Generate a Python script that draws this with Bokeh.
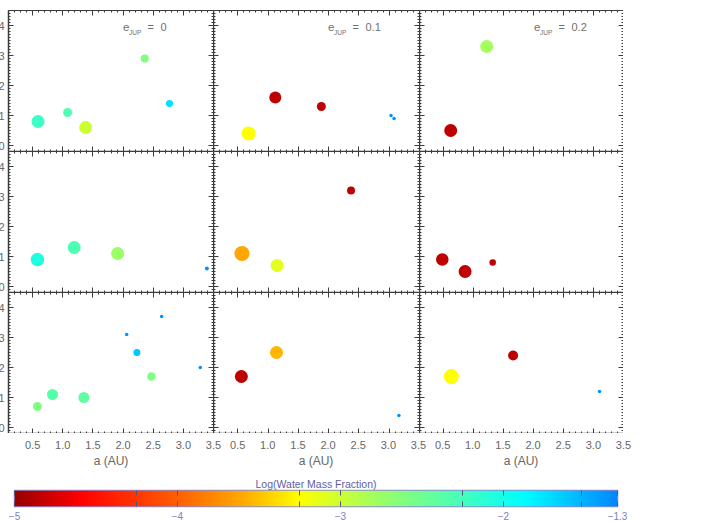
import numpy as np
from bokeh.plotting import figure
from bokeh.models import Range1d, FixedTicker, LinearAxis, Label, LinearColorMapper, ColumnDataSource
from bokeh.core.properties import value
from bokeh.layouts import column, row
from bokeh.embed import file_html
from bokeh.resources import INLINE

# ---------------- data ----------------
# panel index: 0..8 -> row-major (row 0 = top), columns e_JUP = 0, 0.1, 0.2
panel = [0, 0, 0, 0, 0,
         1, 1, 1, 1, 1,
         2, 2,
         3, 3, 3, 3,
         4, 4, 4,
         5, 5, 5,
         6, 6, 6, 6, 6, 6, 6, 6,
         7, 7, 7,
         8, 8, 8]
a_au = [0.59, 1.08, 1.38, 2.36, 2.77,
        1.12, 1.88, 0.68, 3.03, 3.08,
        1.22, 0.62,
        0.58, 1.19, 1.91, 3.39,
        2.37, 0.57, 1.15,
        0.48, 0.86, 1.32,
        2.06, 2.64, 2.23, 3.28, 2.47, 0.58, 0.83, 1.35,
        1.14, 0.56, 3.16,
        0.63, 1.66, 3.10]
mass = [0.8, 1.1, 0.6, 2.9, 1.4,
        1.6, 1.3, 0.4, 1.0, 0.9,
        3.3, 0.5,
        0.9, 1.3, 1.1, 0.6,
        3.2, 1.1, 0.7,
        0.9, 0.5, 0.8,
        3.1, 3.7, 2.5, 2.0, 1.7, 0.7, 1.1, 1.0,
        2.5, 1.7, 0.4,
        1.7, 2.4, 1.2]
log_wmf = [-2.2, -2.3, -3.0, -2.6, -1.72,
           -4.85, -4.85, -3.25, -1.35, -1.35,
           -2.8, -4.85,
           -2.05, -2.3, -2.75, -1.35,
           -4.85, -3.62, -3.12,
           -4.85, -4.85, -4.85,
           -1.35, -1.35, -1.6, -1.35, -2.6, -2.6, -2.35, -2.4,
           -3.55, -4.85, -1.35,
           -3.25, -4.85, -1.35]
rel_size = [13, 9, 13, 8, 7,
            12, 9, 14, 3.5, 3.5,
            13, 13,
            13.5, 13, 13, 4,
            8, 15, 13,
            12.5, 13, 6.5,
            3.5, 3.5, 7, 3.5, 8.5, 9, 11, 11,
            13, 13, 3.5,
            15, 10, 3.5]
e_jup = ["0", "0.1", "0.2"]
x_ticks = [0.5, 1.0, 1.5, 2.0, 2.5, 3.0, 3.5]
y_ticks = [0, 1, 2, 3, 4]
cbar_ticks = [-5, -4, -3, -2, -1.3]
cbar_labels = ["\u22125", "\u22124", "\u22123", "\u22122", "\u22121.3"]
cbar_minor = [-4.25, -3.25, -2.25, -1.52]
WMF_LOW, WMF_HIGH = -5.0, -1.3

# ---------------- styling ----------------
STOPS = [(-5.0, "#990000"), (-4.6, "#ff0000"), (-4.0, "#ff6000"), (-3.6, "#ffaa00"),
         (-3.25, "#ffff00"), (-2.75, "#99ff66"), (-2.25, "#44ffbb"), (-1.87, "#00ffff"),
         (-1.3, "#0088ff")]


def make_palette(stops, n=256):
    v = np.array([s[0] for s in stops])
    c = np.array([[int(h[1:3], 16), int(h[3:5], 16), int(h[5:7], 16)] for _, h in stops], float)
    xs = np.linspace(v[0], v[-1], n)
    rgb = [np.interp(xs, v, c[:, k]) for k in range(3)]
    return ["#%02x%02x%02x" % (int(round(r)), int(round(g)), int(round(b))) for r, g, b in zip(*rgb)]


PALETTE = make_palette(STOPS)
mapper = LinearColorMapper(palette=PALETTE, low=WMF_LOW, high=WMF_HIGH)

XR = (0.1, 3.5)
YR = (-0.2, 4.5)
FRAME_W = [205, 206, 204]
FRAME_H = 141
AX_COL = "#3c3c3c"
LBL_COL = "#666666"
FONT = "Liberation Sans"

x_minor = [round(v, 2) for v in np.arange(0.1, 3.501, 0.1)]
y_minor = [round(v, 2) for v in np.arange(-0.2, 4.501, 0.1)]


def style_axis(ax, show_labels):
    ax.axis_line_color = AX_COL
    ax.axis_line_width = 1.5
    ax.major_tick_line_color = AX_COL
    ax.minor_tick_line_color = AX_COL
    ax.major_tick_in = 5
    ax.major_tick_out = 0
    ax.minor_tick_in = 2
    ax.minor_tick_out = 0
    ax.axis_label = None
    if show_labels:
        ax.major_label_text_font = FONT
        ax.major_label_text_font_size = "11px"
        ax.major_label_text_color = LBL_COL
        ax.major_label_standoff = 4
    else:
        ax.major_label_text_font_size = "0px"
        ax.major_label_text_color = None
        ax.major_label_standoff = 0


rows = []
for r in range(3):
    figs = []
    for c in range(3):
        k = r * 3 + c
        idx = [i for i, pnl in enumerate(panel) if pnl == k]
        src = ColumnDataSource(dict(
            a=[a_au[i] for i in idx],
            m=[mass[i] for i in idx],
            w=[log_wmf[i] for i in idx],
            s=[rel_size[i] for i in idx],
        ))
        p = figure(frame_width=FRAME_W[c], frame_height=FRAME_H,
                   x_range=Range1d(*XR), y_range=Range1d(*YR),
                   output_backend="svg", toolbar_location=None,
                   min_border_left=14 if c == 0 else 0,
                   min_border_right=0,
                   min_border_top=2 if r == 0 else 0,
                   min_border_bottom=0)
        p.grid.visible = False
        p.outline_line_color = None
        p.xaxis.ticker = FixedTicker(ticks=x_ticks, minor_ticks=x_minor)
        p.yaxis.ticker = FixedTicker(ticks=y_ticks, minor_ticks=y_minor)
        style_axis(p.xaxis[0], False)
        style_axis(p.yaxis[0], c == 0)
        top = LinearAxis(ticker=FixedTicker(ticks=x_ticks, minor_ticks=x_minor))
        style_axis(top, False)
        top.axis_line_width = 1
        p.add_layout(top, "above")
        right = LinearAxis(ticker=FixedTicker(ticks=y_ticks, minor_ticks=y_minor))
        style_axis(right, False)
        right.axis_line_width = 1
        p.add_layout(right, "right")

        p.scatter(x="a", y="m", size="s", source=src,
                  fill_color={"field": "w", "transform": mapper}, line_color=None)

        if r == 0:
            common = dict(x_units="screen", y_units="screen", text_color="#707070",
                          text_font=FONT, text_align="left", text_baseline="alphabetic")
            p.add_layout(Label(x=114.5, y=124.5, text="e", text_font_size="11.5px", **common))
            p.add_layout(Label(x=120.5, y=119.5, text="JUP", text_font_size="6.5px", **common))
            p.add_layout(Label(x=139, y=124.5, text="=", text_font_size="11px", **common))
            p.add_layout(Label(x=152, y=124.5, text=e_jup[c], text_font_size="11px", **common))
        figs.append(p)
    rows.append(row(*figs))

# ---------------- x tick-label strip under the bottom row ----------------
# (the column aligns plot frames, so the strip frame shares the colour bar's left border)
COL_SPAN = XR[1] - XR[0]
PPU = sum(FRAME_W) / (3 * COL_SPAN)          # pixels per AU across the three columns
STRIP_H = 36
STRIP_L = 14 - 8                              # strip frame starts this many px right of column-1 frame
STRIP_W = 620
strip = figure(frame_width=STRIP_W, frame_height=STRIP_H,
               x_range=Range1d(STRIP_L / PPU, (STRIP_L + STRIP_W) / PPU), y_range=Range1d(0, STRIP_H),
               output_backend="svg", toolbar_location=None,
               min_border_left=20, min_border_right=10, min_border_top=0, min_border_bottom=0,
               x_axis_location=None, y_axis_location=None)
strip.grid.visible = False
strip.outline_line_color = None
tick_x = [c * COL_SPAN + t - XR[0] for c in range(3) for t in x_ticks]
tick_txt = ["%.1f" % t for c in range(3) for t in x_ticks]
strip.text(x=tick_x, y=[STRIP_H - 11] * len(tick_x), text=tick_txt,
           text_font=value(FONT), text_font_size="11px", text_color=LBL_COL,
           text_align="center", text_baseline="middle")
strip.text(x=[c * COL_SPAN + COL_SPAN / 2 for c in range(3)], y=[STRIP_H - 27] * 3,
           text=["a (AU)"] * 3, text_font=value(FONT), text_font_size="12px",
           text_color=LBL_COL, text_align="center", text_baseline="middle")

# ---------------- colour bar ----------------
cb = figure(frame_width=603, frame_height=16,
            x_range=Range1d(WMF_LOW, WMF_HIGH), y_range=Range1d(0, 1),
            output_backend="svg", toolbar_location=None,
            min_border_left=20, min_border_right=10, min_border_top=21, min_border_bottom=16,
            y_axis_location=None)
cb.grid.visible = False
cb.image(image=[np.linspace(WMF_LOW, WMF_HIGH, 600)[None, :]], x=WMF_LOW, y=0,
         dw=WMF_HIGH - WMF_LOW, dh=1, color_mapper=mapper)
cb.outline_line_color = "#8c8cd0"
cb.outline_line_width = 1.5
cbx = cb.xaxis[0]
cbx.ticker = FixedTicker(ticks=cbar_ticks, minor_ticks=cbar_minor)
cbx.major_label_overrides = {k: v for k, v in zip(cbar_ticks, cbar_labels)}
cbx.axis_line_color = None
cbx.major_tick_line_color = "#555577"
cbx.minor_tick_line_color = "#555577"
cbx.major_tick_in = 5
cbx.major_tick_out = 0
cbx.minor_tick_in = 5
cbx.minor_tick_out = 0
cbx.major_label_text_font = FONT
cbx.major_label_text_font_size = "10px"
cbx.major_label_text_color = "#8080c0"
cbx.major_label_standoff = 5
cbtop = LinearAxis(ticker=FixedTicker(ticks=cbar_ticks, minor_ticks=cbar_minor))
cbtop.axis_line_color = None
cbtop.major_tick_line_color = "#555577"
cbtop.minor_tick_line_color = "#555577"
cbtop.major_tick_in = 5
cbtop.major_tick_out = 0
cbtop.minor_tick_in = 5
cbtop.minor_tick_out = 0
cbtop.major_label_text_font_size = "0px"
cbtop.major_label_text_color = None
cbtop.major_label_standoff = 0
cb.add_layout(cbtop, "above")
cb.title.text = "Log(Water Mass Fraction)"
cb.title.align = "center"
cb.title.text_font = FONT
cb.title.text_font_size = "10.5px"
cb.title.text_font_style = "normal"
cb.title.text_color = "#5e5ea8"
cb.title.standoff = 2
cb.title.offset = 0

layout = column(*rows, strip, cb, margin=(8, 0, -4, -6))

with open("out.html", "w") as f:
    f.write(file_html(layout, INLINE))
